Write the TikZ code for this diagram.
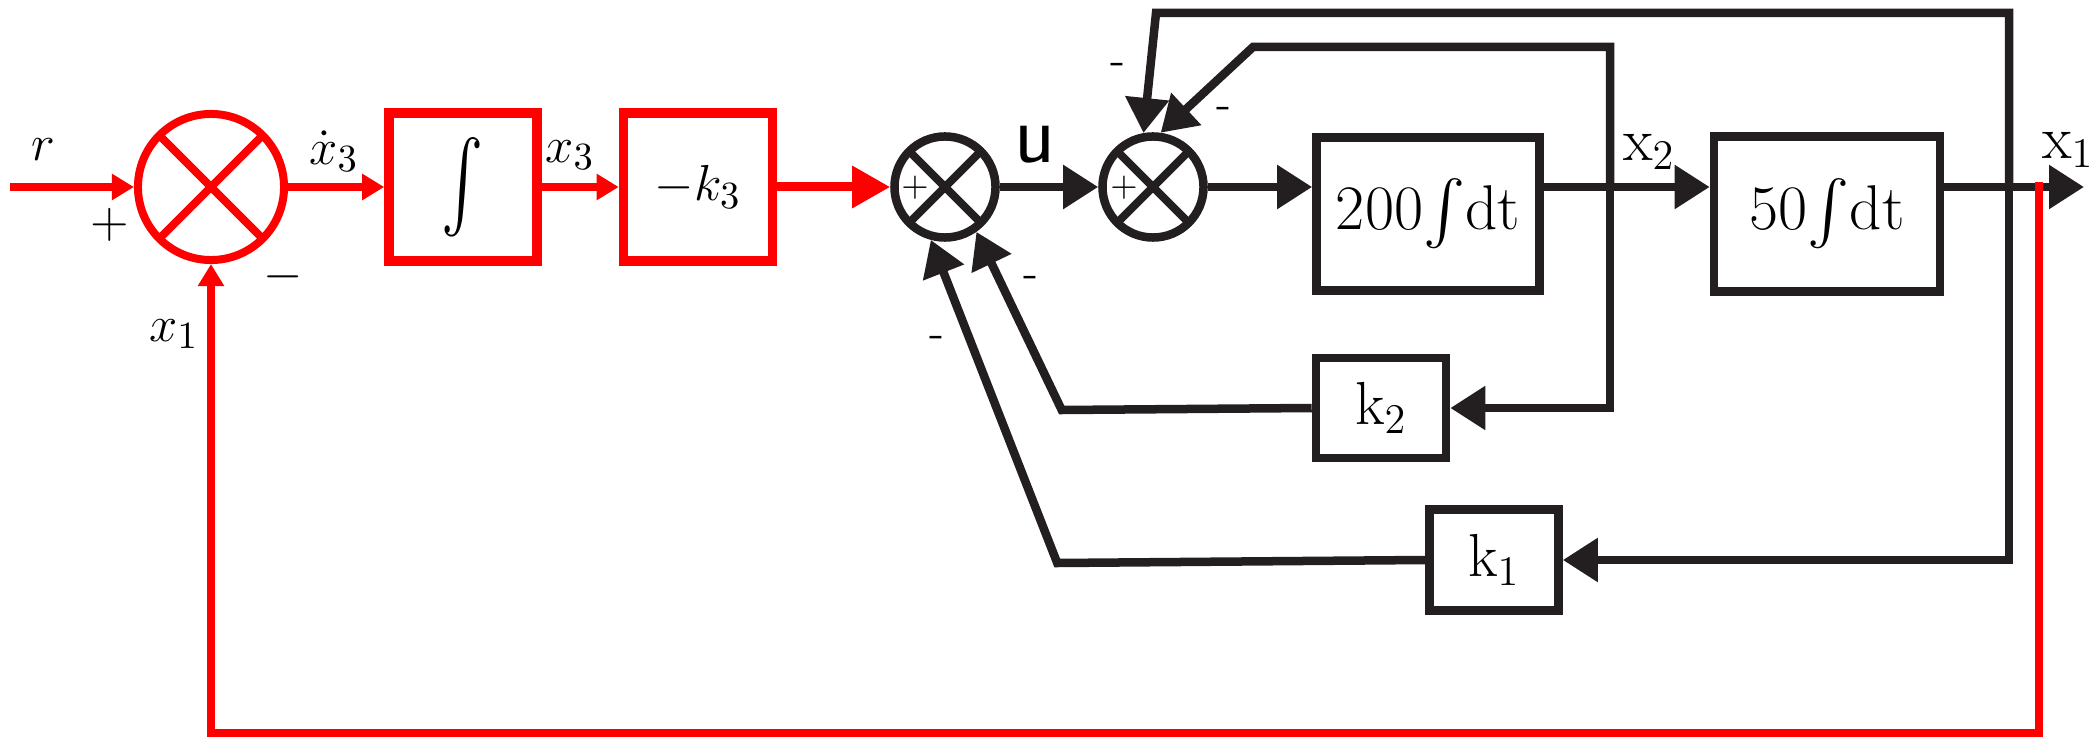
\documentclass[tikz,border=0pt]{standalone}
\usepackage{amsmath, amssymb}
\usepackage{tikz}
\usetikzlibrary{arrows.meta}
\definecolor{lineRed}{RGB}{255, 0, 0}
\definecolor{lineBlack}{RGB}{35, 31, 32}

\begin{document}
\begin{tikzpicture}[x=0.01cm, y=-0.01cm,
    blk/.style={lineBlack, line width=0.085cm},
    redline/.style={lineRed, line width=0.075cm},
    sumnode/.style={circle, draw, inner sep=0pt, minimum size=1.01cm, line width=0.085cm,
      path picture={\draw[line width=0.08cm] (path picture bounding box.south west) -- (path picture bounding box.north east)
        (path picture bounding box.north west) -- (path picture bounding box.south east);}},
    blockbox/.style={rectangle, draw=lineBlack, inner sep=0pt, line width=0.085cm},
    bigtip/.style={-{Triangle[length=0.35cm, width=0.42cm]}},
    redtip/.style={-{Triangle[length=0.22cm, width=0.25cm]}},
    lbl/.style={font=\fontsize{15}{18}\selectfont},
    gain/.style={font=\fontsize{18}{21}\selectfont},
    sgn/.style={font=\fontsize{13}{15}\selectfont}]
  \useasboundingbox (0,0) rectangle (2095,737);

  % red outer loop
  \node[sumnode, lineRed, minimum size=1.46cm, line width=0.08cm] (sumR) at (211,187) {};
  \node[blockbox, draw=lineRed, minimum width=1.48cm, minimum height=1.48cm, line width=0.095cm, lbl]
    (intbox) at (463,187) {\scalebox{1.2}[1.7]{$\int$}};
  \node[blockbox, draw=lineRed, minimum width=1.49cm, minimum height=1.48cm, line width=0.095cm, lbl] (k3box) at (698,187) {$-k_3$};

  % inner loops
  \node[sumnode, lineBlack] (sum1) at (945,187) {};
  \node[sumnode, lineBlack] (sum2) at (1153,187) {};
  \node[blockbox, minimum width=2.23cm, minimum height=1.53cm, gain] (box200) at (1428,214) {200$\int$dt};
  \node[blockbox, minimum width=2.26cm, minimum height=1.55cm, gain] (box50) at (1827,214) {50$\int$dt};
  \node[blockbox, minimum width=1.30cm, minimum height=1.00cm, gain] (k2box) at (1381,408) {$\mathrm{k}_2$};
  \node[blockbox, minimum width=1.29cm, minimum height=1.01cm, gain] (k1box) at (1494,560) {$\mathrm{k}_1$};

  \coordinate (rin) at (10,187);
  \coordinate (xout) at (2084,187);
  \coordinate (x2pick) at (1610,187);
  \coordinate (x1pick) at (2009,187);
  \coordinate (redpick) at (2039,182);

  % signals
  \draw[redline, redtip] (rin) -- (sumR);
  \draw[redline, redtip] (sumR) -- (intbox);
  \draw[redline, redtip] (intbox) -- (k3box);
  \draw[redline, line width=0.09cm, -{Triangle[length=0.38cm, width=0.4cm]}] (k3box) -- (sum1);
  \draw[blk, bigtip] (sum1) -- (sum2);
  \draw[blk, bigtip] (sum2) -- (sum2 -| box200.west);
  \draw[blk, bigtip] (sum2 -| box200.east) -- (sum2 -| box50.west);
  \draw[blk, bigtip] (sum2 -| box50.east) -- (xout);

  % feedback of x2
  \draw[blk, bigtip] (x2pick) -- (1610,47) -- (1253,47) -- (sum2.82);
  \draw[blk, bigtip] (x2pick) |- (k2box.east);
  \draw[blk, bigtip] (k2box.west) -- ++(-250,2) -- (sum1.-55);

  % feedback of x1
  \draw[blk, bigtip] (x1pick) -- (2009,13) -- (1156,13) -- (sum2.100);
  \draw[blk, bigtip] (x1pick) |- (k1box.east);
  \draw[blk, bigtip] (k1box.west) -- ++(-368,3) -- (sum1.-105);
  \draw[redline, redtip, line cap=butt] (redpick) -- (2039,733) -| (sumR.south);

  % labels
  \node[lbl] (rlab) at (43,150) {$r$};
  \node[lbl] (plusR) at (110,225) {$+$};
  \node[lbl] (minusR) at (283,277) {$-$};
  \node[lbl] (x1lab) at (174,334) {$x_1$};
  \node[lbl] (x3dlab) at (334,151) {$\dot{x}_3$};
  \node[lbl] (x3lab) at (570,155) {$x_3$};
  \node[font=\fontsize{24}{28}\selectfont\sffamily] (ulab) at (1035,145) {u};
  \node[font=\fontsize{10}{12}\selectfont] (plus1) at (915,188) {$+$};
  \node[font=\fontsize{10}{12}\selectfont] (plus2) at (1124,188) {$+$};
  \node[sgn] (m1) at (1118,69) {-};
  \node[sgn] (m2) at (1224,113) {-};
  \node[sgn] (m3) at (1031,282) {-};
  \node[sgn] (m4) at (937,342) {-};
  \node[gain] (x2lab) at (1649,152) {$\mathrm{x}_2$};
  \node[gain] (x1out) at (2068,150) {$\mathrm{x}_1$};
\end{tikzpicture}
\end{document}
